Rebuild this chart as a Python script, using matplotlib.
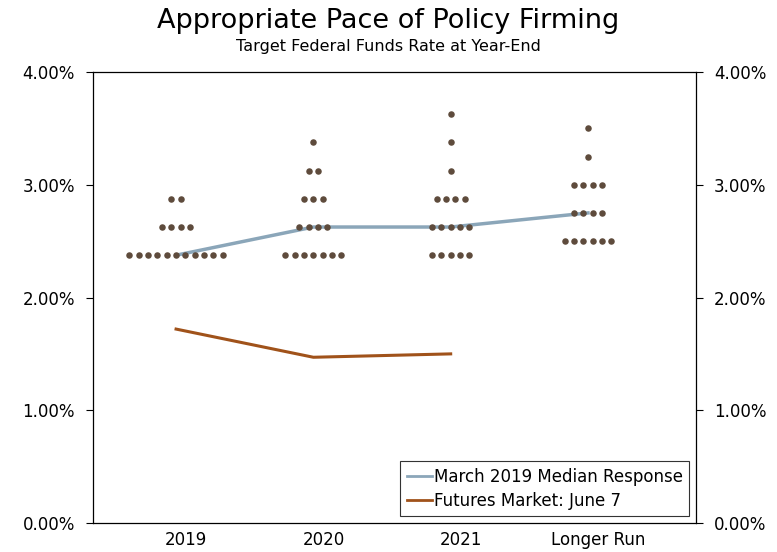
import numpy as np
import matplotlib.pyplot as plt
from matplotlib.ticker import FuncFormatter

categories = ["2019", "2020", "2021", "Longer Run"]

# dot plot: (rate, number of participants) per category
dots_2019 = [(2.375, 11), (2.625, 4), (2.875, 2)]
dots_2020 = [(2.375, 7), (2.625, 4), (2.875, 3), (3.125, 2), (3.375, 1)]
dots_2021 = [(2.375, 5), (2.625, 5), (2.875, 4), (3.125, 1), (3.375, 1), (3.625, 1)]
dots_lr = [(2.5, 6), (2.75, 4), (3.0, 4), (3.25, 1), (3.5, 1)]
all_dots = [dots_2019, dots_2020, dots_2021, dots_lr]

median = [2.375, 2.625, 2.625, 2.75]
futures = [1.72, 1.47, 1.50]

fig = plt.figure(figsize=(7.77, 5.52), dpi=100)
ax = fig.add_axes([0.1197, 0.0525, 0.7761, 0.8171])

ax.plot(range(4), median, color="#8ba6b9", lw=2.5, zorder=2,
        label="March 2019 Median Response")
ax.plot(range(3), futures, color="#a0521a", lw=2.2, zorder=2,
        label="Futures Market: June 7")

step = 0.068
for i, grp in enumerate(all_dots):
    for rate, n in grp:
        xs = i + (np.arange(n) - (n - 1) / 2) * step
        ax.scatter(xs, [rate] * n, s=22, color="#5e4b3c", zorder=3, linewidths=0)

ax.set_xlim(-0.605, 3.787)
ax.set_ylim(0, 4)
ax.set_yticks([0, 1, 2, 3, 4])
fmt = FuncFormatter(lambda v, p: f"{v:.2f}%")
ax.yaxis.set_major_formatter(fmt)
# labels sit a little right of the dot columns
ax.set_xticks(np.arange(4) + 0.075)
ax.set_xticklabels(categories)
ax.tick_params(axis="x", length=0, labelsize=12, pad=6)
ax.tick_params(axis="y", direction="out", length=5, width=0.8, labelsize=12,
               pad=8, left=True, right=True, labelleft=True, labelright=True)
for s in ax.spines.values():
    s.set_color("black")
    s.set_linewidth(0.9)

leg = ax.legend(loc="lower right", fontsize=12, handlelength=1.5,
                handletextpad=0.1, borderpad=0.4, labelspacing=0.35,
                fancybox=False, framealpha=1, borderaxespad=0.4)
leg.get_frame().set_edgecolor("#333333")
leg.get_frame().set_linewidth(0.8)
for line in leg.get_lines():
    line.set_linewidth(2)

fig.text(0.5, 0.962, "Appropriate Pace of Policy Firming", ha="center",
         va="center", fontsize=19.5)
fig.text(0.5, 0.916, "Target Federal Funds Rate at Year-End", ha="center",
         va="center", fontsize=11.5)

fig.savefig("out.png", dpi=100)
